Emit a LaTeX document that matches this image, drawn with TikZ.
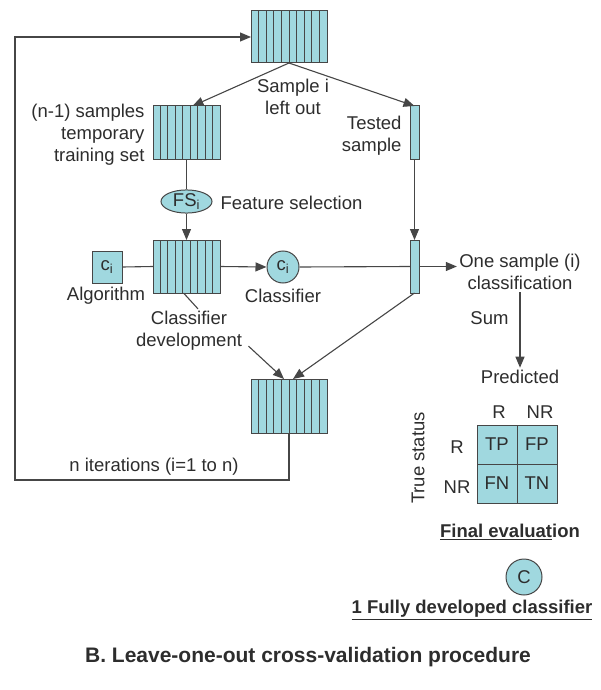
\documentclass[tikz,border=0pt]{standalone}
\usepackage{fontspec}
\setmainfont{Liberation Sans}
\usetikzlibrary{arrows.meta,shapes.geometric}
\definecolor{boxfill}{RGB}{160,216,223}
\definecolor{edge}{RGB}{70,70,70}
\definecolor{txt}{RGB}{45,45,45}

\begin{document}
\begin{tikzpicture}[x=1pt,y=-1pt,line width=1pt,
  every node/.style={font=\fontsize{18.5}{22}\selectfont,text=txt},
  stack/.style={draw=edge,fill=boxfill,inner sep=0pt,outer sep=0pt,minimum height=53pt},
  cell/.style={draw=edge,fill=boxfill,inner sep=0pt,outer sep=0pt,minimum width=40pt,minimum height=39pt},
  lbl/.style={align=center,inner sep=2pt},
  boldtxt/.style={font=\fontsize{18.5}{22}\selectfont\bfseries},
  link/.style={draw=edge,line width=1.1pt},
  >={Triangle[length=11pt,width=9pt]}]
\useasboundingbox (0,0) rectangle (601,690);

\node[stack,minimum width=76pt,minimum height=52pt] (top) at (289,37) {};
\node[stack,minimum width=67pt] (train) at (186.5,132.5) {};
\node[stack,minimum width=9pt] (test) at (414.5,132.5) {};
\node[stack,minimum width=67pt] (dev) at (186.5,266.5) {};
\node[stack,minimum width=9pt] (test2) at (414.5,266.5) {};
\node[stack,minimum width=76pt,minimum height=54pt] (bottom) at (289,406) {};

\foreach \k in {1,...,9} {
  \draw[edge] ([xshift=\k*7.6pt]top.north west) -- ([xshift=\k*7.6pt]top.south west);
  \draw[edge] ([xshift=\k*7.6pt]bottom.north west) -- ([xshift=\k*7.6pt]bottom.south west);
}
\foreach \k in {1,...,8} {
  \draw[edge] ([xshift=\k*7.444pt]train.north west) -- ([xshift=\k*7.444pt]train.south west);
  \draw[edge] ([xshift=\k*7.444pt]dev.north west) -- ([xshift=\k*7.444pt]dev.south west);
}

\node[draw=edge,fill=boxfill,ellipse,minimum width=51pt,minimum height=22pt,inner sep=0pt] (fs) at (186.5,201.5) {FS\textsubscript{i}};
\node[draw=edge,fill=boxfill,minimum width=30pt,minimum height=32pt,inner sep=0pt] (algo) at (107,267) {c\textsubscript{i}};
\node[draw=edge,fill=boxfill,circle,minimum size=32pt,inner sep=0pt] (clf) at (283,267) {c\textsubscript{i}};

\node[lbl] (leftout) at (293,97) {Sample i\\left out};
\node[lbl,align=right,anchor=east] (trainlbl) at (147,135) {(n-1) samples\\temporary\\training set};
\node[lbl,align=right,anchor=east] (testlbl) at (404,135.5) {Tested\\sample};
\node[lbl,anchor=west] (fslbl) at (218,203) {Feature selection};
\node[lbl] (algolbl) at (106,296) {Algorithm};
\node[lbl] (clflbl) at (283,296) {Classifier};
\node[lbl] (devlbl) at (189,331) {Classifier\\development};
\node[lbl] (onesample) at (520,272) {One sample (i)\\classification};
\node[lbl,anchor=east] (sum) at (511,318) {Sum};
\node[lbl] (pred) at (520,377) {Predicted};
\node[lbl] (iter) at (154,467) {n iterations (i=1 to n)};

\node[cell] (tp) at (497,444.5) {TP};
\node[cell] (fp) at (537,444.5) {FP};
\node[cell] (fn) at (497,483.5) {FN};
\node[cell] (tn) at (537,483.5) {TN};
\node (colr) at (499,412) {R};
\node (colnr) at (540,412) {NR};
\node (rowr) at (457,447) {R};
\node (rownr) at (457,487) {NR};
\node[rotate=90] (truestat) at (418,458) {True status};
\node[boldtxt] (final) at (510,532) {\underline{Final evaluat}ion};
\node[draw=edge,fill=boxfill,circle,minimum size=36pt,inner sep=0pt] (fullclf) at (524,577) {C};
\node[boldtxt] (fully) at (472,610) {\underline{1 Fully developed classifier}};
\node[font=\fontsize{21}{25}\selectfont\bfseries] (title) at (308,657) {B. Leave-one-out cross-validation procedure};

\coordinate (corner) at (15,480);

\path[link,->] (top.south) -- ([xshift=6pt]train.north);
\path[link,->] (top.south) -- (test.north);
\path[link] (train.south) -- (fs.north);
\path[link,->] (fs.south) -- (dev.north);
\path[link] (algo.east) -- (dev.west);
\path[link,->] (dev.east) -- (clf.west);
\path[link] (clf.east) -- (test2.west);
\path[link,->] (test.south) -- (test2.north);
\path[link,->] (test2.east) -- (test2.east -| onesample.west);
\path[link,->] (onesample.south) -- (pred.north);
\path[link] ([xshift=-3pt]dev.south) -- ([xshift=9pt]devlbl.north);
\path[link,->] ([xshift=4pt,yshift=7pt]devlbl.south east) -- ([xshift=-5pt]bottom.north);
\path[link,->] (test2.south) -- ([xshift=4pt]bottom.north);
\path[link,->] (bottom.south) |- (corner) |- (top.west);
\end{tikzpicture}
\end{document}
